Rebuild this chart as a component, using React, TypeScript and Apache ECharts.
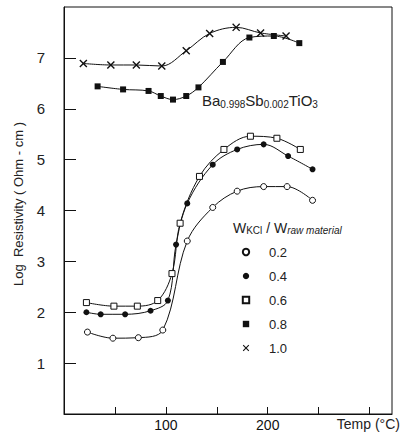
import React, { useEffect, useRef } from "react";
import * as echarts from "echarts";

// Temperature (°C) and log resistivity readings per W_KCl / W_raw material ratio
const temp02 = [23, 48, 73, 97, 121, 146, 170, 196, 219, 244];
const res02 = [1.61, 1.49, 1.5, 1.65, 3.4, 4.06, 4.38, 4.47, 4.47, 4.2];

const temp04 = [22, 36, 60, 85, 102, 110, 121, 146, 170, 196, 220, 244];
const res04 = [2.0, 1.96, 1.96, 2.03, 2.23, 3.33, 4.14, 4.9, 5.2, 5.3, 5.07, 4.81];

const temp06 = [22, 49, 72, 92, 106, 114, 133, 157, 183, 209, 232];
const res06 = [2.19, 2.12, 2.12, 2.23, 2.76, 3.75, 4.67, 5.2, 5.46, 5.42, 5.2];

const temp08 = [33, 58, 83, 95, 107, 120, 132, 156, 182, 206, 231];
const res08 = [6.44, 6.38, 6.35, 6.25, 6.18, 6.25, 6.42, 6.92, 7.4, 7.43, 7.29];

const temp10 = [19, 46, 71, 96, 120, 143, 169, 193, 218];
const res10 = [6.89, 6.86, 6.86, 6.84, 7.14, 7.48, 7.6, 7.49, 7.43];

const ratioNames = ["0.2", "0.4", "0.6", "0.8", "1.0"];
const xTickValues = [50, 100, 150, 200, 250, 300];
const xLabelValues = [100, 200];
const yTickValues = [1, 2, 3, 4, 5, 6, 7];

const FONT = "Liberation Sans";
const CROSS =
  "path://M0,1.2L1.2,0L5,3.8L8.8,0L10,1.2L6.2,5L10,8.8L8.8,10L5,6.2L1.2,10L0,8.8L3.8,5Z";

function pairs(xs: number[], ys: number[]) {
  return xs.map((x, i) => [x, ys[i]]);
}

export default function App() {
  const ref = useRef<HTMLDivElement>(null);

  useEffect(() => {
    if (!ref.current) return;
    const chart = echarts.init(ref.current, undefined, { renderer: "svg" });

    const lineBase = {
      type: "line" as const,
      smooth: 0.35,
      lineStyle: { color: "#111", width: 1 },
      z: 3,
    };
    const empty = { color: "#fff", borderColor: "#111", borderWidth: 1 };
    const filled = { color: "#111", borderColor: "#111", borderWidth: 0 };

    chart.setOption({
      animation: false,
      backgroundColor: "#fff",
      grid: {
        left: 64,
        right: 12,
        top: 7,
        bottom: 23,
        show: true,
        borderColor: "#111",
        borderWidth: 1,
        backgroundColor: "transparent",
      },
      xAxis: {
        type: "value",
        min: 0,
        max: 322,
        axisLine: { show: true, lineStyle: { color: "#111", width: 1 } },
        axisTick: {
          show: true,
          inside: true,
          length: 7,
          customValues: xTickValues,
          lineStyle: { color: "#111" },
        },
        axisLabel: {
          customValues: xLabelValues,
          margin: 4,
          fontSize: 14,
          fontFamily: FONT,
          color: "#111",
        },
        splitLine: { show: false },
      },
      yAxis: {
        type: "value",
        min: 0,
        max: 8,
        axisLine: { show: true, lineStyle: { color: "#111", width: 1 } },
        axisTick: {
          show: true,
          inside: true,
          length: 12,
          customValues: yTickValues,
          lineStyle: { color: "#111" },
        },
        axisLabel: {
          customValues: yTickValues,
          margin: 19,
          fontSize: 15,
          fontFamily: FONT,
          color: "#222",
        },
        splitLine: { show: false },
      },
      legend: {
        orient: "vertical",
        left: 227,
        top: 245,
        padding: 0,
        itemWidth: 36,
        itemHeight: 8,
        itemGap: 10,
        lineStyle: { opacity: 0 },
        textStyle: { fontSize: 13, fontFamily: FONT, color: "#222", lineHeight: 14 },
        data: ratioNames,
      },
      series: [
        {
          ...lineBase,
          name: ratioNames[0],
          data: pairs(temp02, res02),
          symbol: "circle",
          symbolSize: 6,
          itemStyle: empty,
        },
        {
          ...lineBase,
          name: ratioNames[1],
          data: pairs(temp04, res04),
          symbol: "circle",
          symbolSize: 6,
          itemStyle: filled,
        },
        {
          ...lineBase,
          name: ratioNames[2],
          data: pairs(temp06, res06),
          symbol: "rect",
          symbolSize: 6,
          itemStyle: empty,
        },
        {
          ...lineBase,
          name: ratioNames[3],
          data: pairs(temp08, res08),
          symbol: "rect",
          symbolSize: 6,
          itemStyle: filled,
        },
        {
          ...lineBase,
          name: ratioNames[4],
          data: pairs(temp10, res10),
          symbol: CROSS,
          symbolSize: 8,
          itemStyle: filled,
        },
      ],
      graphic: [
        {
          type: "text",
          x: 18,
          y: 204,
          rotation: Math.PI / 2,
          style: {
            text: "Log  Resistivity ( Ohm - cm )",
            fontSize: 13,
            fontFamily: FONT,
            fill: "#222",
            align: "center",
            verticalAlign: "middle",
          },
        },
        {
          type: "text",
          x: 400,
          y: 424,
          style: {
            text: "Temp (°C)",
            fontSize: 14,
            fontFamily: FONT,
            fill: "#222",
            align: "right",
            verticalAlign: "middle",
          },
        },
        {
          type: "text",
          x: 202,
          y: 101,
          style: {
            text: "{m|Ba}{s|0.998}{m|Sb}{s|0.002}{m|TiO}{s|3}",
            verticalAlign: "middle",
            align: "left",
            rich: {
              m: { fontSize: 15, fontFamily: FONT, fill: "#222", lineHeight: 16, verticalAlign: "top" },
              s: { fontSize: 10, fontFamily: FONT, fill: "#222", lineHeight: 10, verticalAlign: "bottom" },
            },
          },
        },
        {
          type: "text",
          x: 233,
          y: 228,
          style: {
            text: "{m|W}{s|KCl}{m| / W}{i|raw material}",
            verticalAlign: "middle",
            align: "left",
            rich: {
              m: { fontSize: 14, fontFamily: FONT, fill: "#222", lineHeight: 15, verticalAlign: "top" },
              s: { fontSize: 10, fontFamily: FONT, fill: "#222", lineHeight: 11, verticalAlign: "bottom" },
              i: {
                fontSize: 10,
                fontStyle: "italic",
                fontFamily: FONT,
                fill: "#222",
                lineHeight: 11,
                verticalAlign: "bottom",
              },
            },
          },
        },
      ],
    });

    return () => chart.dispose();
  }, []);

  return (
    <div
      ref={ref}
      style={{ position: "fixed", left: 0, top: 0, width: 404, height: 437 }}
    />
  );
}
